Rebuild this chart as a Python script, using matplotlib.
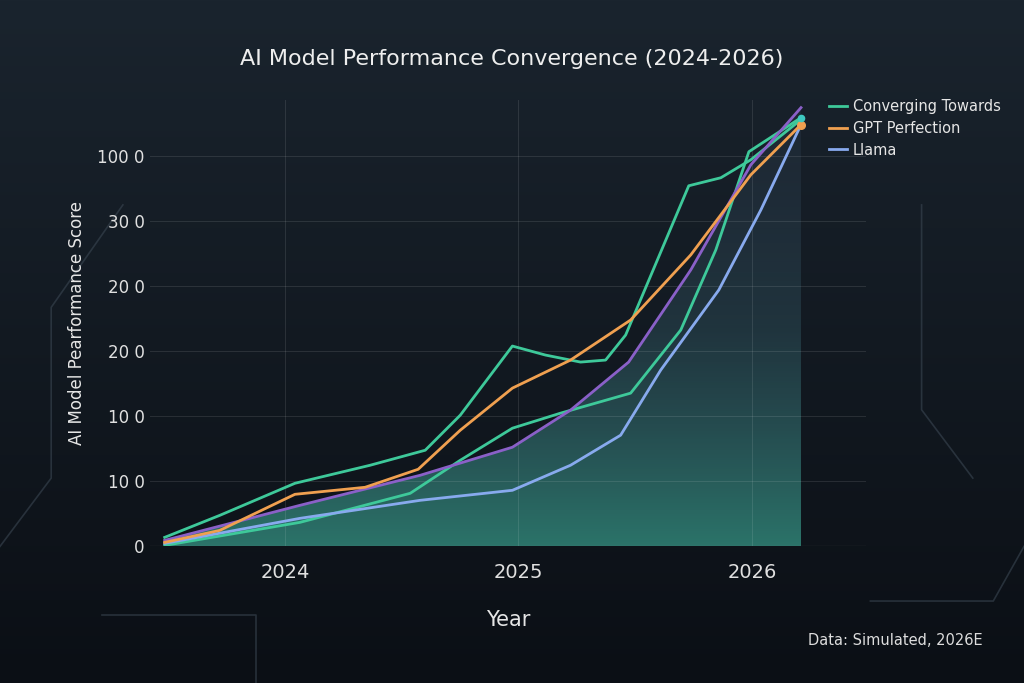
import numpy as np
import matplotlib.pyplot as plt
from matplotlib.patches import Polygon

def X(px): return [2024 + (p - 285) / 233 for p in px]
def Y(py): return [(546 - p) / 65 for p in py]

g1_x = X([165, 220, 295, 370, 425, 460, 512, 545, 580, 605, 625, 688, 720, 750, 800])
g1_y = Y([537, 515, 483, 465, 450, 415, 346, 355, 362, 360, 335, 186, 178, 160, 120])
g2_x = X([165, 300, 410, 460, 512, 560, 630, 680, 715, 748, 800])
g2_y = Y([545, 522, 493, 460, 428, 413, 393, 330, 250, 152, 118])
or_x = X([165, 220, 295, 365, 418, 460, 512, 570, 630, 690, 750, 800])
or_y = Y([542, 530, 494, 487, 469, 430, 388, 360, 320, 255, 175, 125])
pu_x = X([165, 300, 420, 512, 570, 628, 690, 750, 800])
pu_y = Y([540, 505, 475, 447, 410, 362, 270, 165, 108])
bl_x = X([165, 300, 420, 512, 570, 620, 660, 718, 760, 800])
bl_y = Y([543, 518, 500, 490, 465, 435, 370, 290, 210, 125])

ytick_vals = [0, 1, 2, 3, 4, 5, 6]
ytick_labels = ["0", "10 0", "10 0", "20 0", "20 0", "30 0", "100 0"]
xtick_vals = [2024, 2025, 2026]

fig = plt.figure(figsize=(10.24, 6.83), dpi=100)
bg = fig.add_axes([0, 0, 1, 1])
grad = np.linspace(0, 1, 256)[:, None] * np.ones((1, 256))
bg.imshow(grad, cmap=plt.matplotlib.colors.LinearSegmentedColormap.from_list("b", ["#1a242e", "#0b0f15"]),
          aspect="auto", extent=[0, 1, 0, 1])
for xs, ys in [([0, 0.05, 0.05, 0.12], [0.2, 0.3, 0.55, 0.7]), ([0.95, 0.9, 0.9], [0.3, 0.4, 0.7]),
               ([0.1, 0.25, 0.25], [0.1, 0.1, 0.0]), ([0.85, 0.97, 1.0], [0.12, 0.12, 0.2])]:
    bg.plot(xs, ys, color="#3a4652", lw=1.2, alpha=0.6)
bg.set_xlim(0, 1); bg.set_ylim(0, 1); bg.axis("off")

ax = fig.add_axes([0.146, 0.2, 0.7, 0.654])
ax.patch.set_alpha(0)
ax.set_xlim(2023.42, 2026.49)
ax.set_ylim(0, 6.86)

grad2 = np.linspace(0, 1, 256)[:, None]
cmap = plt.matplotlib.colors.LinearSegmentedColormap.from_list(
    "f", [(0.22, 0.62, 0.55, 0.7), (0.25, 0.45, 0.5, 0.3), (0.3, 0.38, 0.5, 0.12)])
im = ax.imshow(grad2, cmap=cmap, aspect="auto", extent=[pu_x[0], pu_x[-1], 0, max(pu_y)], origin="lower", zorder=1)
poly = Polygon(list(zip(pu_x, pu_y)) + [(pu_x[-1], 0), (pu_x[0], 0)], closed=True, transform=ax.transData)
im.set_clip_path(poly)

ax.plot(g1_x, g1_y, color="#3ec99a", lw=2, zorder=3)
ax.plot(g2_x, g2_y, color="#3ec99a", lw=2, zorder=3)
ax.plot(or_x, or_y, color="#f0a050", lw=2, zorder=4)
ax.plot(pu_x, pu_y, color="#8a60c8", lw=2, zorder=3)
ax.plot(bl_x, bl_y, color="#88aaee", lw=2, zorder=3)
ax.scatter([or_x[-1]], [or_y[-1]], color="#f0a050", s=30, zorder=5)
ax.scatter([g2_x[-1]], [g2_y[-1]], color="#3ec9c0", s=20, zorder=5)

from matplotlib.lines import Line2D
h = [Line2D([], [], color="#3ec99a", lw=2), Line2D([], [], color="#f0a050", lw=2), Line2D([], [], color="#88aaee", lw=2)]
leg = ax.legend(h, ["Converging Towards", "GPT Perfection", "Llama"], loc="upper left",
                bbox_to_anchor=(0.93, 1.03), frameon=False, fontsize=10.5, handlelength=1.2,
                handletextpad=0.4, labelspacing=0.45)
for t in leg.get_texts(): t.set_color("#e6e6e6")

ax.set_yticks(ytick_vals, ytick_labels)
ax.set_xticks(xtick_vals, [str(v) for v in xtick_vals])
ax.tick_params(axis="y", colors="#e0e0e0", labelsize=12, length=0)
ax.tick_params(axis="x", colors="#e0e0e0", labelsize=14, length=0, pad=12)
ax.grid(True, color="#ffffff", alpha=0.1, lw=0.8)
for s in ax.spines.values(): s.set_visible(False)
ax.axhline(0, color="#aaaaaa", lw=0.8, alpha=0.5)
ax.set_xlabel("Year", color="#e6e6e6", fontsize=15, labelpad=20)
ax.set_ylabel("AI Model Pearformance Score", color="#e6e6e6", fontsize=12, labelpad=8)
fig.text(0.5, 0.905, "AI Model Performance Convergence (2024-2026)", color="#eeeeee", fontsize=16, ha="center")
fig.text(0.96, 0.055, "Data: Simulated, 2026E", color="#dddddd", fontsize=10.5, ha="right")
fig.savefig("out.png", dpi=100)
